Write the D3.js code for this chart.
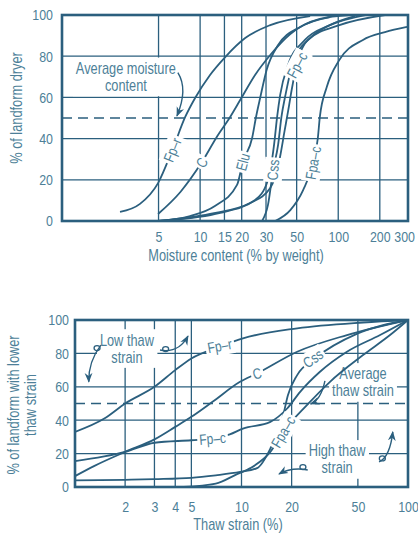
<!DOCTYPE html>
<html>
<head>
<meta charset="utf-8">
<script src="https://cdn.jsdelivr.net/npm/d3@7/dist/d3.min.js"></script>
<style>
  body { margin: 0; background: #fff; }
  svg { display: block; }
  text { font-family: "Liberation Sans", Arial, sans-serif; fill: #4d7f98; }
</style>
</head>
<body>
<svg id="chart" width="418" height="534"></svg>
<script>
'use strict';

// ---- top panel: moisture content ----
const moistTicks = [5, 10, 15, 20, 30, 50, 100, 200, 300];
const moistGrid = [5, 10, 15, 20, 30, 50, 100, 200];
const pctTicks = [0, 20, 40, 60, 80, 100];
const pctGrid = [20, 40, 60, 80];

const moistFpr  = [[2.63,4.4],[3.67,8.3],[4.96,18.4],[6.3,34.5],[7.8,50.5],[9.2,59.7],[11.8,70.9],[15.2,79.6],[21.2,88.8],[32.2,95.1],[62.6,99.5]];
const moistC    = [[4.96,3.4],[7.2,14.1],[10.3,28.6],[13.2,40.8],[16.5,50.5],[19.5,58.7],[25,70.9],[32.2,80.6],[45,90.8],[73.6,98.1],[121,100]];
const moistElu  = [[4.96,0],[8.46,2.4],[12.8,7.3],[18.5,17.5],[20.4,28.6],[23.8,40.3],[25.4,50.5],[27.2,59.7],[30.3,73.3],[36.7,85.4],[53,94.2],[87,99]];
const moistX    = [[4.96,0],[14,3.9],[25,10.2],[31,19.9],[34.3,36.9],[36.1,50.5],[38,61.2],[43.3,75.7],[57.4,87.9],[87,95.1],[157,100]];
const moistCss  = [[28.1,0],[31,7.8],[33.8,24.8],[36.7,36.9],[38.8,50.5],[41.5,61.2],[47.2,77.2],[62.6,88.8],[87,95.1],[132,99.5]];
const moistFpc  = [[4.96,0],[11.8,3.4],[23,8.7],[32.2,16],[37.5,29.6],[41,44.2],[43.5,53.9],[46,63.6],[50.4,76.7],[60.3,87.9],[102,95.1],[218,100]];
const moistFpac = [[34.9,0],[45,5.3],[55.7,15],[65.8,28.2],[71.2,40.3],[73.6,50.5],[82.6,65],[102,78.2],[151,87.9],[218,91.7],[315,94.2]];

// ---- bottom panel: thaw strain ----
const thawTicks = [2, 3, 4, 5, 10, 20, 50, 100];
const thawGrid = [2, 3, 4, 5, 10, 20, 50];

const thawFpr  = [[1,33],[1.5,41],[2,50],[3,60],[4,70],[5,77],[7.4,84],[10.2,89],[21.6,95],[53.7,98.5],[100,100]];
const thawC    = [[1,6.5],[1.3,12.5],[2,21],[3,28.5],[4,36],[5,42],[6.7,51],[9.8,63],[12.4,68],[21.6,81],[43,91],[100,100]];
const thawFpc  = [[1,15.5],[2,21],[3,26.5],[5,28],[6.7,29],[8.5,31.5],[10.2,35],[14.9,39],[18.8,47],[22.5,57],[29.6,69],[43,81],[68,91],[100,100]];
const thawCss  = [[1,4],[2,4.3],[3,4.7],[5,5.5],[7,7],[9.8,9],[12.4,11.3],[14.9,23],[17.8,43],[19,55],[21.6,67],[27.6,77],[50,92],[100,100]];
const thawFpac = [[4.5,0],[7,2],[9.4,7.7],[11.3,11.3],[14.9,21],[17.8,33],[24.7,49],[34,63],[53.7,79],[78,91],[100,100]];

const ink = '#2b5f7e';
const squeeze = 0.8;   // fake a narrow face
const svg = d3.select('#chart');

svg.append('defs').append('marker')
    .attr('id', 'head').attr('viewBox', '0 0 10 10')
    .attr('refX', 9).attr('refY', 5)
    .attr('markerWidth', 7).attr('markerHeight', 7)
    .attr('orient', 'auto')
  .append('path')
    .attr('d', 'M0,1 L10,5 L0,9 L3,5 Z')
    .attr('fill', ink);

// squeeze a text horizontally around its anchor x
var narrow = (t) => {
    const x = +t.attr('x') || 0;
    const prev = t.attr('transform') || '';
    t.attr('transform', `${prev} translate(${x},0) scale(${squeeze},1) translate(${-x},0)`);
    return t;
};

var whiteBox = (g, t, pad) => {
    const bb = t.node().getBBox();
    const x = +t.attr('x') || 0;
    const bx = x + (bb.x - x) * squeeze, bw = bb.width * squeeze;
    g.insert('rect', ':first-child')
        .attr('x', bx - pad).attr('y', bb.y - pad + 1)
        .attr('width', bw + pad * 2).attr('height', bb.height + pad * 2 - 2)
        .attr('fill', '#fff');
};

var curlyArrow = (g, p, s, c, e, loop) => {
    const a = [p.x(s[0]), p.y(s[1])], b = [p.x(c[0]), p.y(c[1])], z = [p.x(e[0]), p.y(e[1])];
    g.append('path')
        .attr('d', `M${a[0]},${a[1]} Q${b[0]},${b[1]} ${z[0]},${z[1]}`)
        .attr('fill', 'none').attr('stroke', ink).attr('stroke-width', 1.4)
        .attr('marker-end', 'url(#head)');
    if (!loop) return;
    // little loop near the tail
    const lx = a[0] + (b[0] - a[0]) * 0.3, ly = a[1] + (b[1] - a[1]) * 0.3;
    g.append('ellipse').attr('cx', lx).attr('cy', ly - 2).attr('rx', 3).attr('ry', 2.5)
        .attr('fill', 'none').attr('stroke', ink).attr('stroke-width', 1.3);
};

var drawPanel = (p) => {
    const g = svg.append('g');
    const [x0, x1] = p.x.range(), [y0, y1] = p.y.range();

    svg.select('defs').append('clipPath').attr('id', 'clip-' + p.name)
      .append('rect').attr('x', x0).attr('y', y1).attr('width', x1 - x0).attr('height', y0 - y1);

    // grid
    g.selectAll('.vg').data(p.xGrid).enter().append('line')
        .attr('x1', d => p.x(d)).attr('x2', d => p.x(d))
        .attr('y1', y0).attr('y2', y1)
        .attr('stroke', ink).attr('stroke-width', 1.3);
    g.selectAll('.hg').data(pctGrid).enter().append('line')
        .attr('x1', x0).attr('x2', x1)
        .attr('y1', d => p.y(d)).attr('y2', d => p.y(d))
        .attr('stroke', ink).attr('stroke-width', 1.3);
    g.append('line')
        .attr('x1', x0).attr('x2', x1).attr('y1', p.y(50)).attr('y2', p.y(50))
        .attr('stroke', ink).attr('stroke-width', 1.3).attr('stroke-dasharray', '10,6');

    // annotation text blocks (white box breaks the grid)
    p.notes.forEach(n => {
        const ng = g.append('g');
        const t = ng.append('text')
            .attr('x', p.x(n.at[0])).attr('y', p.y(n.at[1]))
            .attr('text-anchor', 'middle').attr('font-size', 16);
        n.lines.forEach((s, i) => {
            t.append('tspan').attr('x', p.x(n.at[0]))
                .attr('dy', i === 0 ? (-(n.lines.length - 1) * 8.5 + 5) + 'px' : '17px')
                .text(s);
        });
        narrow(t);
        whiteBox(ng, t, 3);
    });

    // curves
    const line = d3.line()
        .x(d => p.x(d[0])).y(d => p.y(d[1]))
        .curve(d3.curveMonotoneX);
    g.append('g').attr('clip-path', `url(#clip-${p.name})`)
      .selectAll('path').data(p.series).enter().append('path')
        .attr('d', d => line(d))
        .attr('fill', 'none').attr('stroke', ink).attr('stroke-width', 1.8);

    // curve labels
    p.labels.forEach(l => {
        const lg = g.append('g')
            .attr('transform', `translate(${p.x(l.at[0])},${p.y(l.at[1])}) rotate(${l.angle})`);
        const t = lg.append('text').attr('text-anchor', 'middle').attr('dy', '0.35em')
            .attr('font-size', 15).text(l.text);
        narrow(t);
        whiteBox(lg, t, 2);
    });

    p.arrows.forEach(a => curlyArrow(g, p, a[0], a[1], a[2], a[3]));

    // frame
    g.append('rect')
        .attr('x', x0).attr('y', y1).attr('width', x1 - x0).attr('height', y0 - y1)
        .attr('fill', 'none').attr('stroke', ink).attr('stroke-width', 2.6);

    // axes: labels only
    const ax = g.append('g').attr('transform', `translate(0,${y0})`)
        .call(d3.axisBottom(p.x).tickValues(p.xTicks).tickFormat(d3.format('d')).tickSize(0).tickPadding(p.xPad));
    const ay = g.append('g').attr('transform', `translate(${x0},0)`)
        .call(d3.axisLeft(p.y).tickValues(pctTicks).tickSize(0).tickPadding(p.yPad));
    [ax, ay].forEach(a => {
        a.select('.domain').remove();
        a.selectAll('text').attr('font-size', 15.5).attr('fill', '#4d7f98')
            .attr('font-family', '"Liberation Sans", Arial, sans-serif')
            .each(function() { narrow(d3.select(this)); });
    });

    // titles
    narrow(g.append('text').attr('x', p.xTitle[0]).attr('y', p.xTitle[1])
        .attr('text-anchor', 'middle').attr('font-size', 16).text(p.xLabel));
    p.yLabel.forEach((s, i) => {
        narrow(g.append('text')
            .attr('transform', `translate(${p.yTitle[i]},${p.yTitleY}) rotate(-90)`)
            .attr('text-anchor', 'middle').attr('font-size', 16).text(s));
    });
};

const xMoist = d3.scaleLog().domain([1, 320]).range([62, 408]);
const yMoist = d3.scaleLinear().domain([0, 100]).range([221, 15]);

drawPanel({
    name: 'moist', x: xMoist, y: yMoist,
    xTicks: moistTicks, xGrid: moistGrid, xPad: 10, yPad: 9,
    series: [moistFpr, moistC, moistElu, moistX, moistCss, moistFpc, moistFpac],
    labels: [
        {text: 'Fp\u2013r', at: [6.3, 34.5], angle: -68},
        {text: 'C', at: [10.3, 28.4], angle: -60},
        {text: 'Elu', at: [20.4, 28.6], angle: -75},
        {text: 'Css', at: [33.8, 24.8], angle: -85},
        {text: 'Fp\u2013c', at: [50.4, 75.7], angle: -62},
        {text: 'Fpa\u2013c', at: [65.8, 28.2], angle: -80}
    ],
    notes: [{lines: ['Average moisture', 'content'], at: [2.9, 69.7]}],
    arrows: [[[6.9, 72], [8.2, 64], [6.8, 51], false]],
    xLabel: 'Moisture content (% by weight)', xTitle: [236, 261],
    yLabel: ['% of landform dryer'], yTitle: [22], yTitleY: 108
});

const xThaw = d3.scaleLog().domain([1, 100]).range([75, 408]);
const yThaw = d3.scaleLinear().domain([0, 100]).range([487, 320]);

drawPanel({
    name: 'thaw', x: xThaw, y: yThaw,
    xTicks: thawTicks, xGrid: thawGrid, xPad: 14, yPad: 6,
    series: [thawFpr, thawC, thawFpc, thawCss, thawFpac],
    labels: [
        {text: 'Fp\u2013r', at: [7.4, 84.5], angle: -10},
        {text: 'C', at: [12.4, 68], angle: -15},
        {text: 'Css', at: [26.9, 77], angle: -35},
        {text: 'Fp\u2013c', at: [6.7, 29], angle: -5},
        {text: 'Fpa\u2013c', at: [17.8, 33], angle: -60}
    ],
    notes: [
        {lines: ['Low thaw', 'strain'], at: [2.05, 82.6]},
        {lines: ['Average', 'thaw strain'], at: [53.7, 62.3]},
        {lines: ['High thaw', 'strain'], at: [37.5, 16.2]}
    ],
    arrows: [
        [[1.43, 85], [1.2, 75], [1.21, 63], true],
        [[3.24, 82], [4.2, 80], [4.77, 90.4], true],
        [[31.7, 63.5], [30, 52], [26, 49.7], false],
        [[25, 10.2], [20, 12], [16.8, 7.8], true],
        [[67, 15], [78, 18], [81, 33], true]
    ],
    xLabel: 'Thaw strain (%)', xTitle: [238, 530],
    yLabel: ['% of landform with lower', 'thaw strain'], yTitle: [19, 36], yTitleY: 405
});
</script>
</body>
</html>
